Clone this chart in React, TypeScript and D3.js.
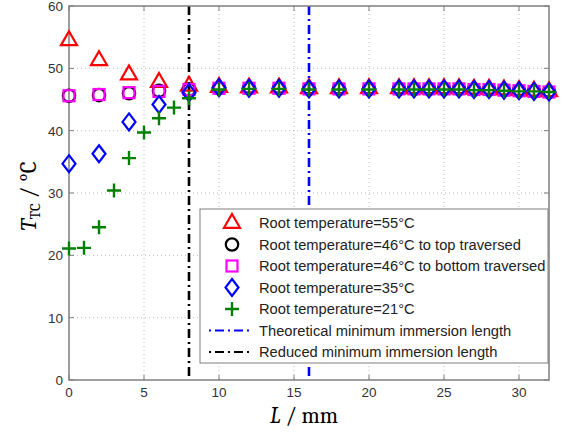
import React from "react";
import * as d3 from "d3";

// x positions (mm) shared by most series
const xMain = [0, 2, 4, 6, 8, 10, 12, 14, 16, 18, 20, 22, 23, 24, 25, 26, 27, 28, 29, 30, 31, 32];
const xPlus = [0, 1, 2, 3, 4, 5, 6, 7, 8, 10, 12, 14, 16, 18, 20, 22, 23, 24, 25, 26, 27, 28, 29, 30, 31, 32];

const t55 = [54.5, 51.3, 49, 47.8, 47.2, 47, 46.9, 46.9, 46.8, 46.8, 46.8, 46.8, 46.8, 46.8, 46.8, 46.8, 46.7, 46.7, 46.6, 46.5, 46.4, 46.3];
const t46top = [45.6, 45.7, 46, 46.4, 46.6, 46.8, 46.8, 46.8, 46.7, 46.7, 46.7, 46.7, 46.7, 46.7, 46.7, 46.7, 46.6, 46.6, 46.5, 46.4, 46.3, 46.2];
const t46bot = [45.6, 45.8, 46.1, 46.3, 46.6, 46.8, 46.8, 46.8, 46.7, 46.7, 46.7, 46.7, 46.7, 46.7, 46.7, 46.7, 46.6, 46.6, 46.5, 46.4, 46.3, 46.2];
const t35 = [34.7, 36.3, 41.4, 44.2, 46.1, 46.9, 46.8, 46.8, 46.7, 46.7, 46.7, 46.7, 46.7, 46.7, 46.7, 46.7, 46.6, 46.6, 46.5, 46.4, 46.3, 46.2];
const t21 = [21.1, 21.2, 24.5, 30.4, 35.6, 39.7, 42, 43.7, 45.2, 46.6, 46.7, 46.7, 46.6, 46.6, 46.6, 46.6, 46.6, 46.6, 46.6, 46.6, 46.5, 46.5, 46.4, 46.3, 46.3, 46.2];

const xTicks = [0, 5, 10, 15, 20, 25, 30];
const yTicks = [0, 10, 20, 30, 40, 50, 60];
const theoreticalL = 16;
const reducedL = 8;

const legendLabels = [
  "Root temperature=55°C",
  "Root temperature=46°C to top traversed",
  "Root temperature=46°C to bottom traversed",
  "Root temperature=35°C",
  "Root temperature=21°C",
  "Theoretical minimum immersion length",
  "Reduced minimum immersion length",
];

const W = 562, H = 432;
const left = 69, right = 549, top = 6, bottom = 380;

function Marker({ kind, x, y }: { kind: string; x: number; y: number }) {
  const sw = 2.2;
  if (kind === "tri") {
    const s = 8;
    return <path d={`M${x},${y - s - 1} L${x + s},${y + s * 0.6} L${x - s},${y + s * 0.6} Z`} fill="none" stroke="#ff0000" strokeWidth={sw} />;
  }
  if (kind === "circ") return <circle cx={x} cy={y} r={6.2} fill="none" stroke="#000" strokeWidth={sw} />;
  if (kind === "sq") return <rect x={x - 5.5} y={y - 5.5} width={11} height={11} fill="none" stroke="#ff00ff" strokeWidth={sw} />;
  if (kind === "dia") return <path d={`M${x},${y - 8.5} L${x + 6.5},${y} L${x},${y + 8.5} L${x - 6.5},${y} Z`} fill="none" stroke="#0000ff" strokeWidth={sw} />;
  return <path d={`M${x - 7},${y} H${x + 7} M${x},${y - 7} V${y + 7}`} stroke="#008000" strokeWidth={2.4} />;
}

export default function App() {
  const x = d3.scaleLinear().domain([0, 32]).range([left, right]);
  const y = d3.scaleLinear().domain([0, 60]).range([bottom, top]);

  const series = [
    { kind: "tri", xs: xMain, ys: t55 },
    { kind: "circ", xs: xMain, ys: t46top },
    { kind: "sq", xs: xMain, ys: t46bot },
    { kind: "dia", xs: xMain, ys: t35 },
    { kind: "plus", xs: xPlus, ys: t21 },
  ];

  const font = "Helvetica, Arial, 'Liberation Sans', sans-serif";
  const serif = "Cambria, 'Liberation Serif', 'DejaVu Serif', serif";
  const lgX = 200, lgY = 209, lgW = 348, lgH = 154, rowH = 21.5;

  return (
    <svg width={W} height={H} style={{ position: "absolute", left: 0, top: 0, background: "#fff" }}>
      {/* grid */}
      {xTicks.filter(t => t > 0).map(t => (
        <line key={"gx" + t} x1={x(t)} x2={x(t)} y1={top} y2={bottom} stroke="#bbb" strokeWidth={1} strokeDasharray="1,3" />
      ))}
      {yTicks.filter(t => t > 0 && t < 60).map(t => (
        <line key={"gy" + t} x1={left} x2={right} y1={y(t)} y2={y(t)} stroke="#bbb" strokeWidth={1} strokeDasharray="1,3" />
      ))}
      {/* minimum lengths */}
      <line x1={x(reducedL)} x2={x(reducedL)} y1={top} y2={bottom} stroke="#000" strokeWidth={2.6} strokeDasharray="9,4,2,4" />
      <line x1={x(theoreticalL)} x2={x(theoreticalL)} y1={top} y2={bottom} stroke="#0000ff" strokeWidth={2.6} strokeDasharray="9,4,2,4" />
      {/* frame */}
      <rect x={left} y={top} width={right - left} height={bottom - top} fill="none" stroke="#7f7f7f" strokeWidth={1.5} />
      {xTicks.map(t => (
        <g key={"tx" + t}>
          <line x1={x(t)} x2={x(t)} y1={bottom} y2={bottom - 5} stroke="#7f7f7f" />
          <line x1={x(t)} x2={x(t)} y1={top} y2={top + 5} stroke="#7f7f7f" />
          <text x={x(t)} y={bottom + 17} textAnchor="middle" fontSize={13.5} fill="#333" fontFamily={font}>{t}</text>
        </g>
      ))}
      {yTicks.map(t => (
        <g key={"ty" + t}>
          <line x1={left} x2={left + 5} y1={y(t)} y2={y(t)} stroke="#7f7f7f" />
          <line x1={right} x2={right - 5} y1={y(t)} y2={y(t)} stroke="#7f7f7f" />
          <text x={left - 6} y={y(t) + 5} textAnchor="end" fontSize={13.5} fill="#333" fontFamily={font}>{t}</text>
        </g>
      ))}
      {/* data */}
      {series.map(s => (
        <g key={s.kind}>
          {s.xs.map((v, i) => <Marker key={i} kind={s.kind} x={x(v)} y={y(s.ys[i])} />)}
        </g>
      ))}
      {/* legend */}
      <rect x={lgX} y={lgY} width={lgW} height={lgH} fill="#fff" stroke="#7f7f7f" strokeWidth={1} />
      {legendLabels.map((lab, i) => {
        const cy = lgY + 14 + i * rowH;
        const kinds = ["tri", "circ", "sq", "dia", "plus"];
        return (
          <g key={lab}>
            {i < 5 ? (
              <Marker kind={kinds[i]} x={232} y={cy} />
            ) : (
              <line x1={209} x2={252} y1={cy} y2={cy} stroke={i === 5 ? "#0000ff" : "#000"} strokeWidth={2.2} strokeDasharray="9,4,2,4" strokeDashoffset={-6} />
            )}
            <text x={259} y={cy + 5} fontSize={14.7} fill="#222" fontFamily={font}>{lab}</text>
          </g>
        );
      })}
      {/* axis labels */}
      <text transform="translate(36,196) rotate(-90)" textAnchor="middle" fontSize={23} fontFamily={serif} fill="#000">
        <tspan fontStyle="italic">T</tspan>
        <tspan fontSize={15} dy={4}>TC</tspan>
        <tspan dy={-4}> / °C</tspan>
      </text>
      <text x={304} y={423} textAnchor="middle" fontSize={22.5} fontFamily={serif} fill="#000">
        <tspan fontStyle="italic">L</tspan>
        <tspan> / mm</tspan>
      </text>
    </svg>
  );
}
